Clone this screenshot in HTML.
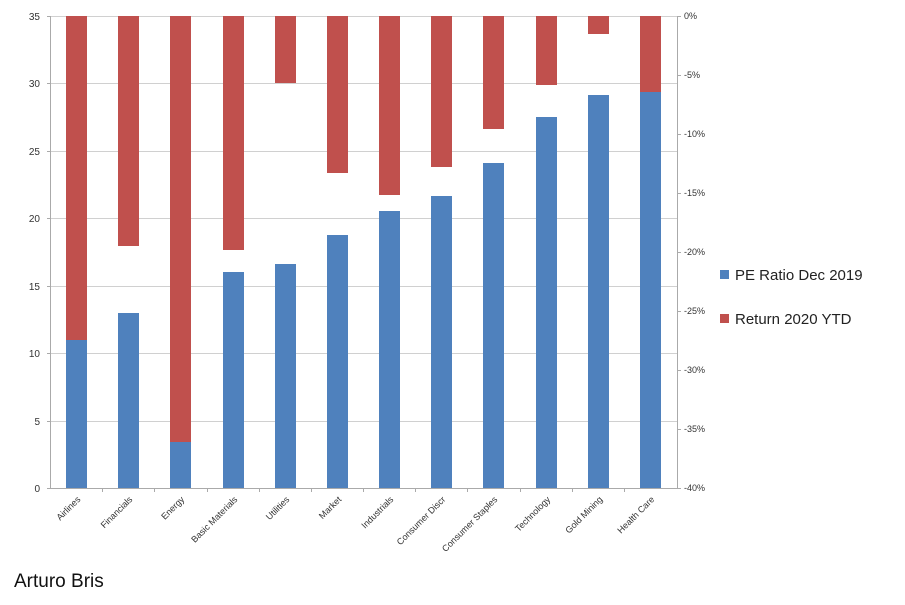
<!DOCTYPE html>
<html><head><style>body{margin:0;background:#fff}</style></head><body>
<svg width="905" height="600" xmlns="http://www.w3.org/2000/svg" font-family="Liberation Sans, sans-serif">
<rect width="905" height="600" fill="#fff"/>
<g stroke="#d0d0d0" stroke-width="1">
<line x1="50" x2="678" y1="16.5" y2="16.5"/><line x1="50" x2="678" y1="83.5" y2="83.5"/><line x1="50" x2="678" y1="151.5" y2="151.5"/><line x1="50" x2="678" y1="218.5" y2="218.5"/><line x1="50" x2="678" y1="286.5" y2="286.5"/><line x1="50" x2="678" y1="353.5" y2="353.5"/><line x1="50" x2="678" y1="421.5" y2="421.5"/>
</g>
<g fill="#c0504d">
<rect x="66" y="16" width="21" height="324"/>
<rect x="118" y="16" width="21" height="230"/>
<rect x="170" y="16" width="21" height="426"/>
<rect x="223" y="16" width="21" height="234"/>
<rect x="275" y="16" width="21" height="67"/>
<rect x="327" y="16" width="21" height="157"/>
<rect x="379" y="16" width="21" height="179"/>
<rect x="431" y="16" width="21" height="151"/>
<rect x="483" y="16" width="21" height="113"/>
<rect x="536" y="16" width="21" height="69"/>
<rect x="588" y="16" width="21" height="18"/>
<rect x="640" y="16" width="21" height="76"/>
</g>
<g fill="#4f81bd">
<rect x="66" y="340" width="21" height="148"/>
<rect x="118" y="313" width="21" height="175"/>
<rect x="170" y="442" width="21" height="46"/>
<rect x="223" y="272" width="21" height="216"/>
<rect x="275" y="264" width="21" height="224"/>
<rect x="327" y="235" width="21" height="253"/>
<rect x="379" y="211" width="21" height="277"/>
<rect x="431" y="196" width="21" height="292"/>
<rect x="483" y="163" width="21" height="325"/>
<rect x="536" y="117" width="21" height="371"/>
<rect x="588" y="95" width="21" height="393"/>
<rect x="640" y="92" width="21" height="396"/>
</g>
<g stroke="#aaa" stroke-width="1">
<line x1="50.5" x2="50.5" y1="16" y2="489"/>
<line x1="677.5" x2="677.5" y1="16" y2="489"/>
<line x1="50" x2="678" y1="488.5" y2="488.5"/>
<path d="M102.5 488v4M154.5 488v4M207.5 488v4M259.5 488v4M311.5 488v4M363.5 488v4M415.5 488v4M467.5 488v4M520.5 488v4M572.5 488v4M624.5 488v4M47 16.5h3M47 83.5h3M47 151.5h3M47 218.5h3M47 286.5h3M47 353.5h3M47 421.5h3M47 488.5h3"/>
<path d="M678 16.5h3M678 75.5h3M678 134.5h3M678 193.5h3M678 252.5h3M678 311.5h3M678 370.5h3M678 429.5h3M678 488.5h3"/>
</g>
<g fill="#333" font-size="10" text-anchor="end">
<text x="40" y="20">35</text><text x="40" y="87">30</text><text x="40" y="155">25</text><text x="40" y="222">20</text><text x="40" y="290">15</text><text x="40" y="357">10</text><text x="40" y="425">5</text><text x="40" y="492">0</text>
</g>
<g fill="#333" font-size="9">
<text x="684" y="19">0%</text><text x="684" y="78">-5%</text><text x="684" y="137">-10%</text><text x="684" y="196">-15%</text><text x="684" y="255">-20%</text><text x="684" y="314">-25%</text><text x="684" y="373">-30%</text><text x="684" y="432">-35%</text><text x="684" y="491">-40%</text>
</g>
<g fill="#333" font-size="9" text-anchor="end">
<text transform="translate(81,500) rotate(-45)">Airlines</text>
<text transform="translate(133,500) rotate(-45)">Financials</text>
<text transform="translate(185,500) rotate(-45)">Energy</text>
<text transform="translate(238,500) rotate(-45)">Basic Materials</text>
<text transform="translate(290,500) rotate(-45)">Utilities</text>
<text transform="translate(342,500) rotate(-45)">Market</text>
<text transform="translate(394,500) rotate(-45)">Industrials</text>
<text transform="translate(446,500) rotate(-45)">Consumer Discr</text>
<text transform="translate(498,500) rotate(-45)">Consumer Staples</text>
<text transform="translate(551,500) rotate(-45)">Technology</text>
<text transform="translate(603,500) rotate(-45)">Gold Mining</text>
<text transform="translate(655,500) rotate(-45)">Health Care</text>
</g>
<rect x="720" y="270" width="9" height="9" fill="#4f81bd"/>
<text x="735" y="280" font-size="15" fill="#222">PE Ratio Dec 2019</text>
<rect x="720" y="314" width="9" height="9" fill="#c0504d"/>
<text x="735" y="324" font-size="15" fill="#222">Return 2020 YTD</text>
<text x="14" y="587" font-size="19" fill="#111">Arturo Bris</text>
</svg>
</body></html>
